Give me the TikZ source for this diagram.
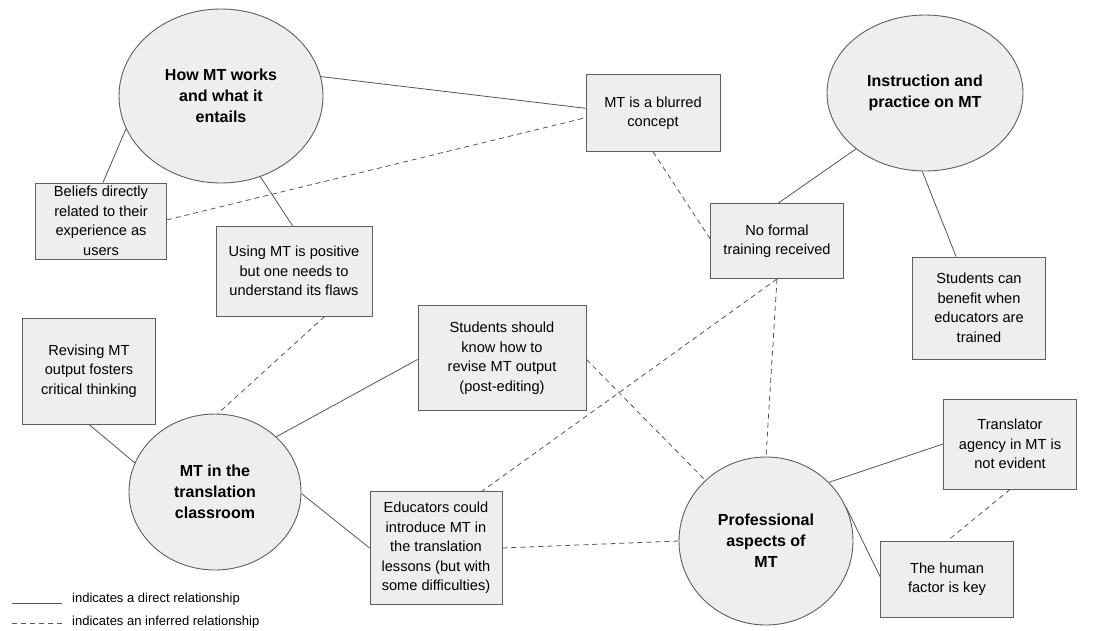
\documentclass[tikz,border=0pt]{standalone}
\usepackage{fontspec}
\setmainfont{Liberation Sans}
\usetikzlibrary{shapes.geometric}
\definecolor{shapefill}{HTML}{EEEEEE}
\definecolor{shapeedge}{HTML}{5F5F5F}
\definecolor{linkcol}{HTML}{555555}
\begin{document}
\begin{tikzpicture}[x=1pt,y=-1pt,
  theme/.style={ellipse, draw=shapeedge, fill=shapefill, line width=0.9pt, inner sep=0pt,
    align=center, font=\fontsize{16}{21}\selectfont\bfseries},
  idea/.style={rectangle, draw=shapeedge, fill=shapefill, line width=0.9pt, inner sep=0pt,
    align=center, font=\fontsize{14.6}{19.5}\selectfont},
  direct/.style={draw=linkcol, line width=0.8pt},
  inferred/.style={draw=linkcol, line width=0.8pt, dash pattern=on 5pt off 4pt},
  legendtext/.style={anchor=west, inner sep=0pt, font=\fontsize{13}{15}\selectfont}]
\useasboundingbox (0,0) rectangle (1118,630);

% main themes
\node[theme, minimum width=204pt, minimum height=174pt] (how) at (221,96) {How MT works\\and what it\\entails};
\node[theme, minimum width=196pt, minimum height=156pt] (instr) at (925,93) {Instruction and\\practice on MT};
\node[theme, minimum width=172pt, minimum height=156pt] (class) at (215,492) {MT in the\\translation\\classroom};
\node[theme, minimum width=174pt, minimum height=168pt] (prof) at (766,541) {Professional\\aspects of\\MT};

% sub-themes
\node[idea, minimum width=134pt, minimum height=77pt] (blurred) at (653,113) {MT is a blurred\\concept};
\node[idea, minimum width=133pt, minimum height=75pt] (nofor) at (777,241) {No formal\\training received};
\node[idea, minimum width=133pt, minimum height=102pt] (benefit) at (979,308) {Students can\\benefit when\\educators are\\trained};
\node[idea, minimum width=131pt, minimum height=76pt] (beliefs) at (101,221) {Beliefs directly\\related to their\\experience as\\users};
\node[idea, minimum width=156pt, minimum height=90pt] (using) at (294,271) {Using MT is positive\\but one needs to\\understand its flaws};
\node[idea, minimum width=133pt, minimum height=106pt] (revising) at (89,371) {Revising MT\\output fosters\\critical thinking};
\node[idea, minimum width=168pt, minimum height=105pt] (should) at (502,358) {Students should\\know how to\\revise MT output\\(post-editing)};
\node[idea, minimum width=132pt, minimum height=113pt] (educ) at (436,548) {Educators could\\introduce MT in\\the translation\\lessons (but with\\some difficulties)};
\node[idea, minimum width=133pt, minimum height=90pt] (agency) at (1010,444) {Translator\\agency in MT is\\not evident};
\node[idea, minimum width=133pt, minimum height=76pt] (human) at (947,579) {The human\\factor is key};

% direct relationships
\draw[direct] (how.11) -- (blurred.176);
\draw[direct] (how.199) -- (beliefs.87);
\draw[direct] (how.296) -- (using.92);
\draw[direct] (instr.219) -- (nofor.88);
\draw[direct] (instr.268) -- (benefit.114);
\draw[direct] (class.160) -- (revising.270);
\draw[direct] (class.42) -- (should.181);
\draw[direct] (class.359) -- (educ.180);
\draw[direct] (prof.43) -- (agency.180);
\draw[direct] (prof.23) -- (human.178);

% inferred relationships
\draw[inferred] (beliefs.1) -- (blurred.184);
\draw[inferred] (blurred.270) -- (nofor.178);
\draw[inferred] (using.304) -- (class.88);
\draw[inferred] (nofor.270) -- (prof.90);
\draw[inferred] (nofor.270) -- (educ.51);
\draw[inferred] (should.359) -- (prof.135);
\draw[inferred] (educ.0) -- (prof.180);
\draw[inferred] (agency.270) -- (human.89);

% legend
\coordinate (solidA) at (12,603);
\coordinate (solidB) at (62,603);
\coordinate (dashA) at (12,623);
\coordinate (dashB) at (62,623);
\draw[direct] (solidA) -- (solidB);
\draw[inferred] (dashA) -- (dashB);
\node[legendtext] (legsolid) at (72,599) {indicates a direct relationship};
\node[legendtext] (legdash) at (72,622) {indicates an inferred relationship};
\end{tikzpicture}
\end{document}
